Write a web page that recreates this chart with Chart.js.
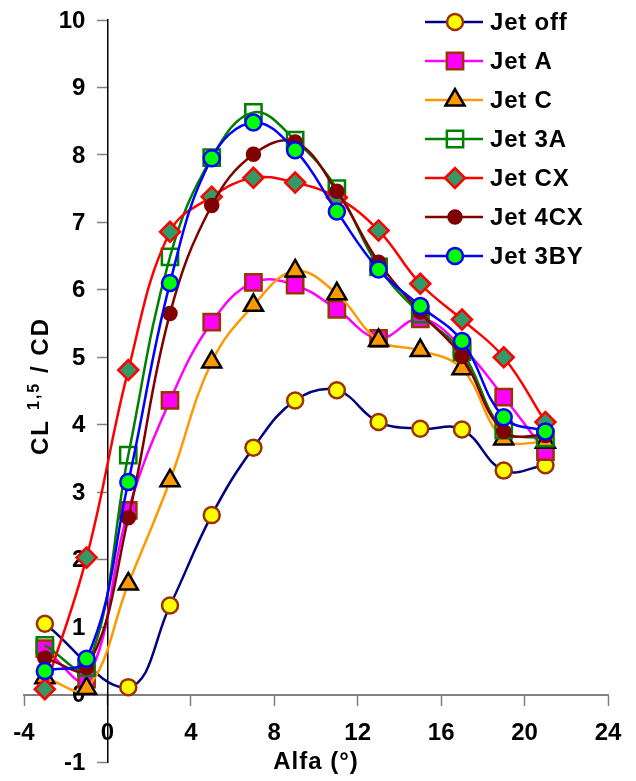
<!DOCTYPE html>
<html>
<head>
<meta charset="utf-8">
<script src="https://cdn.jsdelivr.net/npm/chart.js@4/dist/chart.umd.min.js"></script>
<style>
  html, body { margin: 0; padding: 0; background: #fff; }
  canvas { display: block; }
</style>
</head>
<body>
<canvas id="chart" width="636" height="781"></canvas>
<script>
// angle of attack (deg)
const alfa = [-3, -1, 1, 3, 5, 7, 9, 11, 13, 15, 17, 19, 21];

// CL^1.5 / CD per configuration (null = not measured)
const jetOff = [1.05, null, 0.11, 1.32, 2.66, 3.66, 4.36, 4.51, 4.04, 3.94, 3.93, 3.32, 3.40];
const jetA   = [0.68, 0.23, 2.73, 4.36, 5.52, 6.11, 6.07, 5.71, 5.28, 5.57, 5.15, 4.41, 3.60];
const jetC   = [0.25, 0.09, 1.64, 3.17, 4.93, 5.77, 6.28, 5.94, 5.25, 5.10, 4.83, 3.79, 3.74];
const jet3A  = [0.73, 0.40, 3.55, 6.49, 7.96, 8.63, 8.22, 7.50, 6.34, 5.64, 5.08, 3.92, 3.80];
const jetCX  = [0.08, 2.03, 4.81, 6.86, 7.38, 7.66, 7.59, 7.37, 6.88, 6.09, 5.56, 5.00, 4.04];
const jet4CX = [0.54, 0.40, 2.62, 5.65, 7.25, 8.01, 8.19, 7.46, 6.41, 5.67, 5.01, 3.90, 3.84];
const jet3BY = [0.35, 0.53, 3.15, 6.10, 7.95, 8.48, 8.07, 7.16, 6.30, 5.76, 5.24, 4.11, 3.90];

const seriesNames = ["Jet off", "Jet A", "Jet C", "Jet 3A", "Jet CX", "Jet 4CX", "Jet 3BY"];
const seriesValues = [jetOff, jetA, jetC, jet3A, jetCX, jet4CX, jet3BY];

const xTicks = { min: -4, max: 24, step: 4 };
const yTicks = { min: -1, max: 10, step: 1 };

const FONT = '"Liberation Sans", Arial, sans-serif';
Chart.defaults.font.family = FONT;

// line colour, marker style, marker size, marker fill, marker edge
const styles = [
  { line: "#000080", shape: "circle",   r: 8,    fill: "#FFFF00", edge: "#993300" },
  { line: "#FF00FF", shape: "rect",     r: 11.5, fill: "#FF00FF", edge: "#993300" },
  { line: "#FF9900", shape: "triangle", r: 11,   fill: "#FF9900", edge: "#000000" },
  { line: "#008000", shape: "rect",     r: 11.5, fill: "rgba(0,0,0,0)", edge: "#008000" },
  { line: "#FF0000", shape: "rectRot",  r: 10,   fill: "#339966", edge: "#FF0000" },
  { line: "#800000", shape: "circle",   r: 6.5,  fill: "#800000", edge: "#800000" },
  { line: "#0000FF", shape: "circle",   r: 8,    fill: "#00FF00", edge: "#0000FF" },
];

function toPoints(values) {
  const pts = [];
  values.forEach((v, i) => {
    if (v !== null) pts.push({ x: alfa[i], y: v });
  });
  return pts;
}

const datasets = seriesNames.map((name, i) => ({
  label: name,
  data: toPoints(seriesValues[i]),
  borderColor: styles[i].line,
  borderWidth: 2.5,
  tension: 0.4,
  fill: false,
  pointStyle: styles[i].shape,
  pointRadius: styles[i].r,
  pointBackgroundColor: styles[i].fill,
  pointBorderColor: styles[i].edge,
  pointBorderWidth: 2.5,
  order: seriesNames.length - i, // later series on top, like the original
}));

const tickFontCss = "bold 24px " + FONT;

// tick labels drawn next to the crossing axes (chart.js puts y labels on the line itself)
const axisLabels = {
  id: "axisLabels",
  beforeDatasetsDraw(chart) {
    const { ctx, scales: { x, y } } = chart;
    const x0 = x.getPixelForValue(0);
    const y0 = y.getPixelForValue(0);
    ctx.save();
    ctx.fillStyle = "#000";
    ctx.font = tickFontCss;
    ctx.textBaseline = "middle";
    ctx.textAlign = "right";
    y.ticks.forEach((t) => {
      ctx.fillText(String(t.value), x0 - 22, y.getPixelForValue(t.value) + 1);
    });
    ctx.textAlign = "center";
    x.ticks.forEach((t) => {
      ctx.fillText(String(t.value), x.getPixelForValue(t.value), y0 + 39);
    });
    ctx.restore();
  },
};

// legend drawn by hand so it can sit inside the plot at the top right
const sideLegend = {
  id: "sideLegend",
  afterDraw(chart) {
    const ctx = chart.ctx;
    ctx.save();
    datasets.forEach((ds, i) => {
      const y = 22 + i * 39;
      ctx.strokeStyle = ds.borderColor;
      ctx.lineWidth = ds.borderWidth;
      ctx.beginPath();
      ctx.moveTo(425, y);
      ctx.lineTo(483, y);
      ctx.stroke();
      ctx.fillStyle = ds.pointBackgroundColor;
      ctx.strokeStyle = ds.pointBorderColor;
      ctx.lineWidth = ds.pointBorderWidth;
      Chart.helpers.drawPoint(ctx, {
        pointStyle: ds.pointStyle,
        radius: ds.pointRadius,
        borderWidth: ds.pointBorderWidth,
        rotation: 0,
      }, 455, y);
      ctx.fillStyle = "#000";
      ctx.font = "bold 24px " + FONT;
      ctx.letterSpacing = "0.8px";
      ctx.textAlign = "left";
      ctx.textBaseline = "middle";
      ctx.fillText(ds.label, 490, y + 1);
    });
    ctx.restore();
  },
};

// axis titles, the y one with a superscript exponent
const axisTitles = {
  id: "axisTitles",
  afterDraw(chart) {
    const ctx = chart.ctx;
    ctx.save();
    ctx.fillStyle = "#000";
    ctx.letterSpacing = "1px";
    ctx.font = "bold 24px " + FONT;
    ctx.textAlign = "center";
    ctx.textBaseline = "middle";
    ctx.fillText("Alfa (°)", 316, 762);

    ctx.translate(48, 455);
    ctx.rotate(-Math.PI / 2);
    ctx.textAlign = "left";
    ctx.textBaseline = "alphabetic";
    ctx.letterSpacing = "2px";
    ctx.font = "bold 24px " + FONT;
    ctx.fillText("CL", 0, 0);
    ctx.font = "bold 16px " + FONT;
    ctx.fillText("1,5", 45, -9);
    ctx.font = "bold 24px " + FONT;
    ctx.fillText("/ CD", 82, 0);
    ctx.restore();
  },
};

new Chart(document.getElementById("chart"), {
  type: "line",
  data: { datasets },
  options: {
    responsive: false,
    animation: false,
    layout: { padding: { left: 24, right: 28, top: 20, bottom: 19 } },
    plugins: {
      legend: { display: false },
      tooltip: { enabled: false },
    },
    scales: {
      x: {
        type: "linear",
        position: { y: 0 },
        min: xTicks.min,
        max: xTicks.max,
        afterFit: (s) => { s.height = 0; },
        ticks: { stepSize: xTicks.step, display: false },
        grid: { drawOnChartArea: false, tickLength: 10, tickColor: "#808080", tickWidth: 1.5 },
        border: { display: true, color: "#808080", width: 2 },
      },
      y: {
        type: "linear",
        position: { x: 0 },
        min: yTicks.min,
        max: yTicks.max,
        afterFit: (s) => { s.width = 0; },
        ticks: { stepSize: yTicks.step, display: false },
        grid: { drawOnChartArea: false, tickLength: 10, tickColor: "#808080", tickWidth: 1.5 },
        border: { display: true, color: "#000", width: 1.5 },
      },
    },
  },
  plugins: [axisLabels, sideLegend, axisTitles],
});
</script>
</body>
</html>
